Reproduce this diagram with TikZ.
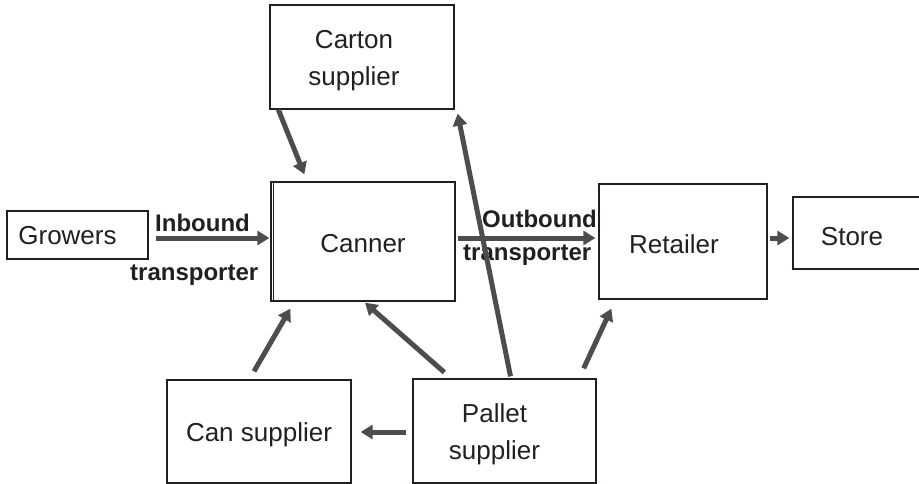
\documentclass[tikz,border=0pt]{standalone}
\usepackage{fontspec}
\setmainfont{Liberation Sans}
\usetikzlibrary{arrows.meta,calc}
\definecolor{ink}{HTML}{231F20}
\definecolor{arrowgray}{HTML}{4D4D4F}
\begin{document}
\begin{tikzpicture}[x=1pt,y=-1pt,
  box/.style={draw=ink, line width=1.3pt, rectangle, inner sep=0pt},
  txt/.style={text=ink, font=\fontsize{26}{37}\selectfont, align=center},
  tag/.style={text=ink, font=\fontsize{24}{28}\selectfont\bfseries, inner sep=0pt, anchor=base west},
  flow/.style={draw=arrowgray, line width=5pt, -{Triangle[length=12pt,width=14pt]}}
]
\useasboundingbox (0,0) rectangle (919,484);
\clip (0,0) rectangle (919,484);

% boxes of the supply chain
\node[box, minimum width=141, minimum height=48,
      label={[txt,xshift=-10pt,yshift=-1pt]center:Growers}] (growers) at (77.5,235) {};
\node[box, minimum width=184, minimum height=119,
      label={[txt,yshift=-2pt]center:Canner}] (canner) at (363,241.5) {};
\node[box, minimum width=184, minimum height=104,
      label={[txt,xshift=-8pt,yshift=-4pt]center:Carton\\supplier}] (carton) at (362,57) {};
\node[box, minimum width=168, minimum height=115,
      label={[txt,xshift=-9pt,yshift=-2.5pt]center:Retailer}] (retailer) at (683,241.5) {};
\node[box, minimum width=137, minimum height=72,
      label={[txt,xshift=-9.5pt,yshift=-4pt]center:Store}] (store) at (861.5,233) {};
\node[box, minimum width=184, minimum height=103,
      label={[txt,yshift=-3pt]center:Can supplier}] (cansup) at (259,431.5) {};
\node[box, minimum width=183, minimum height=104,
      label={[txt,xshift=-10pt,yshift=-3pt]center:Pallet\\supplier}] (pallet) at (504.5,431) {};

% second rule on the canner's left side
\draw[ink, line width=1.3pt] ([xshift=3pt]canner.north west) -- ([xshift=3pt]canner.south west);

% transport labels
\node[tag] (inb) at (155,231.5) {Inbound};
\node[tag] (intr) at (130,280) {transporter};
\node[tag] (outb) at (482,227) {Outbound};
\node[tag] (outtr) at (463,260.5) {transporter};

% flows
\draw[flow] ([shift={(7,3)}]growers.east) -- ([shift={(-1,-3.5)}]canner.west);
\draw[flow] ([shift={(2,-3.5)}]canner.east) -- ([shift={(-3,-3.5)}]retailer.west);
\draw[flow] ([shift={(2,-3.5)}]retailer.east) -- ([shift={(-3,5)}]store.west);
\draw[flow] ([shift={(9,0)}]carton.south west) -- ([shift={(34,-7)}]canner.north west);
\draw[flow] ([shift={(6,-2)}]pallet.north) -- ([shift={(3,4)}]carton.south east);
\draw[flow] ([shift={(32,-6)}]pallet.north west) -- ([shift={(2,1)}]canner.south);
\draw[flow] ([shift={(-5,-8)}]cansup.north) -- ([shift={(20,7)}]canner.south west);
\draw[flow] ([shift={(-13,-10)}]pallet.north east) -- ([shift={(13,9)}]retailer.south west);
\draw[flow] ([shift={(-6,1)}]pallet.west) -- ([shift={(9,0.5)}]cansup.east);
\end{tikzpicture}
\end{document}
